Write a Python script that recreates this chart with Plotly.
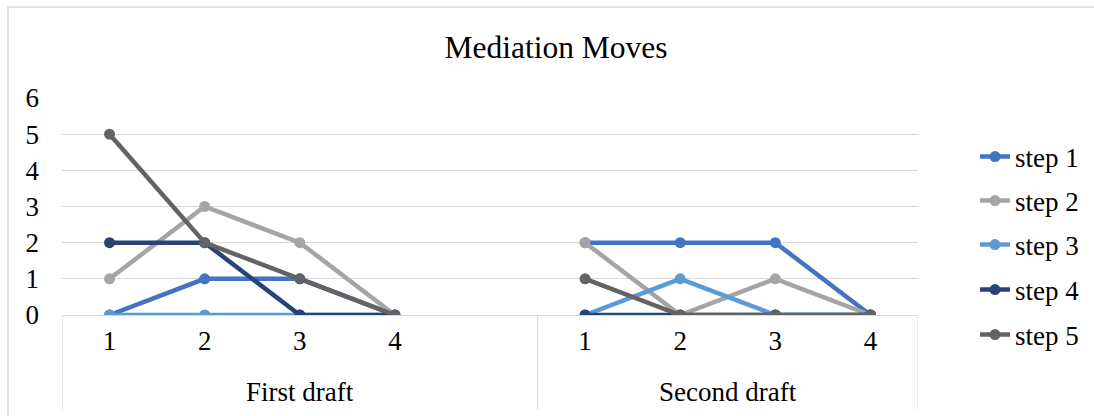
import plotly.graph_objects as go

# Category slots along x: four moves per draft, with one empty slot after the
# first draft that spaces the two groups apart.
drafts = ["First draft"] * 5 + ["Second draft"] * 4
moves = ["1", "2", "3", "4", "", "1", "2", "3", "4"]
group_names = ["First draft", "Second draft"]

series_names = ["step 1", "step 2", "step 3", "step 4", "step 5"]
step1 = [0, 1, 1, 0, None, 2, 2, 2, 0]
step2 = [1, 3, 2, 0, None, 2, 0, 1, 0]
step3 = [0, 0, 0, 0, None, 0, 1, 0, 0]
step4 = [2, 2, 0, 0, None, 0, 0, 0, 0]
step5 = [5, 2, 1, 0, None, 1, 0, 0, 0]
series_values = [step1, step2, step3, step4, step5]

colors = ["#4472C4", "#A5A5A5", "#5B9BD5", "#264478", "#636363"]
y_ticks = [0, 1, 2, 3, 4, 5, 6]

FONT = "Liberation Serif, Times New Roman, serif"
GRID = "#D9D9D9"

# plot-area geometry in pixels (figure 1094x416)
L, R, T, B = 62, 918, 98, 315
PW, PH = R - L, B - T


def px_x(px):
    return (px - L) / PW


def px_y(py):
    return (B - py) / PH


# unique category keys so repeated move numbers stay in separate slots
slots = [f"{d} #{i}" for i, d in enumerate(drafts)]

fig = go.Figure()
legend_ids = ["legend"] + [f"legend{k}" for k in range(2, len(series_names) + 1)]
for i, (name, vals) in enumerate(zip(series_names, series_values)):
    fig.add_trace(go.Scatter(
        x=slots,
        y=vals,
        name=name,
        legend=legend_ids[i],
        mode="lines+markers",
        connectgaps=False,
        line=dict(color=colors[i], width=4.5),
        marker=dict(color=colors[i], size=11, symbol="circle"),
    ))

# group boundaries and centres (in slot-index units)
bounds = [-0.5]
centres = []
for g in group_names:
    n = drafts.count(g)
    centres.append(bounds[-1] + n / 2)
    bounds.append(bounds[-1] + n)

shapes = [
    dict(type="line", xref="x", yref="paper", x0=b, x1=b,
         y0=0, y1=px_y(410), line=dict(color=GRID, width=1))
    for b in bounds
]
# light chart-area frame
shapes.append(dict(type="rect", xref="paper", yref="paper",
                   x0=px_x(8), x1=px_x(1200), y0=px_y(480), y1=px_y(7),
                   line=dict(color=GRID, width=1.5),
                   fillcolor="rgba(0,0,0,0)", layer="below"))

annotations = [
    dict(text=g, x=c, xref="x", y=px_y(392), yref="paper",
         xanchor="center", yanchor="middle", showarrow=False,
         font=dict(family=FONT, size=27, color="#000000"))
    for g, c in zip(group_names, centres)
]

# one legend box per series, stacked down the right-hand side
legend_rows = [157, 201, 245, 290, 335]
legend_layout = {}
for lid, row in zip(legend_ids, legend_rows):
    legend_layout[lid] = dict(
        x=px_x(975), xanchor="left",
        y=px_y(row), yanchor="middle",
        font=dict(family=FONT, size=27, color="#000000"),
        bgcolor="rgba(0,0,0,0)",
        borderwidth=0,
    )

fig.update_layout(
    width=1094,
    height=416,
    margin=dict(l=L, r=1094 - R, t=T, b=416 - B, autoexpand=False),
    paper_bgcolor="white",
    plot_bgcolor="white",
    font=dict(family=FONT, color="#000000", size=27),
    title=dict(
        text="Mediation Moves",
        font=dict(family=FONT, size=31.5, color="#000000"),
        xref="container", x=556 / 1094, xanchor="center",
        yref="container", y=1 - 47 / 416, yanchor="middle",
    ),
    showlegend=True,
    xaxis=dict(
        type="category",
        range=[-0.5, len(slots) - 0.5],
        tickmode="array",
        tickvals=slots,
        ticktext=moves,
        showgrid=False,
        showline=True,
        linecolor=GRID,
        linewidth=1,
        zeroline=False,
        ticks="",
        ticklabelstandoff=2,
        tickfont=dict(family=FONT, size=27, color="#000000"),
    ),
    yaxis=dict(
        range=[0, 6],
        tickvals=y_ticks,
        showgrid=True,
        gridcolor=GRID,
        gridwidth=1,
        zeroline=False,
        showline=False,
        ticks="",
        ticklabelstandoff=22,
        tickfont=dict(family=FONT, size=27, color="#000000"),
    ),
    shapes=shapes,
    annotations=annotations,
    **legend_layout,
)

fig.write_html("out.html")
